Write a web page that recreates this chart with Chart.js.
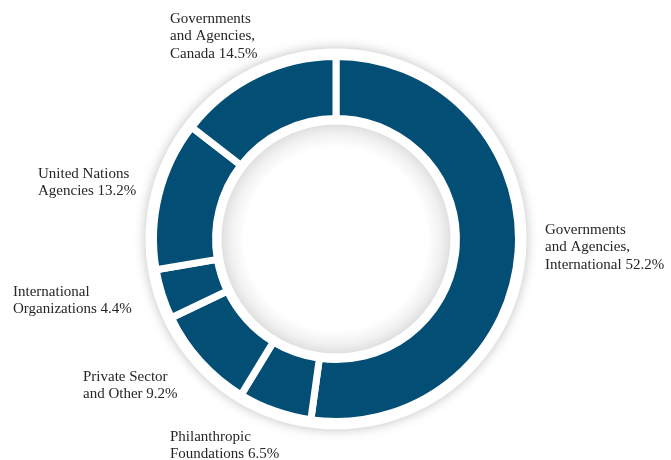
<!DOCTYPE html>
<html lang="en">
<head>
    <meta charset="UTF-8">
    <title>Funding Sources</title>
    <script src="https://cdn.jsdelivr.net/npm/chart.js@4.4.0/dist/chart.umd.min.js"></script>
    <style>
        body {
            margin: 0;
            background: #ffffff;
        }
        .chart-container {
            position: relative;
            width: 671px;
            height: 460px;
        }
    </style>
</head>
<body>
    <div class="chart-container">
        <canvas id="fundingChart"></canvas>
    </div>

    <script>
        // Shares of funding, clockwise from the top
        const categories = [
            'Governments and Agencies, International',
            'Philanthropic Foundations',
            'Private Sector and Other',
            'International Organizations',
            'United Nations Agencies',
            'Governments and Agencies, Canada'
        ];
        const shares = [52.2, 6.5, 9.2, 4.4, 13.2, 14.5];
        // How each category name is broken over lines in the labels
        const labelLines = [
            ['Governments', 'and Agencies,', 'International'],
            ['Philanthropic', 'Foundations'],
            ['Private Sector', 'and Other'],
            ['International', 'Organizations'],
            ['United Nations', 'Agencies'],
            ['Governments', 'and Agencies,', 'Canada']
        ];

        // where each label block sits (left x, first baseline)
        const labelSpots = [
            [545, 234], [170, 441], [83, 381], [13, 296], [38, 178], [170, 23]
        ];

        const ringDecor = {
            id: 'ringDecor',
            beforeDatasetsDraw(chart) {
                const arc = chart.getDatasetMeta(0).data[0];
                if (!arc) return;
                const ctx = chart.ctx;
                ctx.save();
                ctx.shadowColor = 'rgba(0,0,0,0.25)';
                ctx.shadowBlur = 12;
                ctx.fillStyle = '#ffffff';
                ctx.beginPath();
                ctx.arc(arc.x, arc.y, arc.outerRadius + 8, 0, Math.PI * 2);
                ctx.fill();
                ctx.restore();
            },
            afterDatasetsDraw(chart) {
                const arc = chart.getDatasetMeta(0).data[0];
                if (!arc) return;
                const ctx = chart.ctx;
                const r = arc.innerRadius - 6;
                ctx.save();
                const grad = ctx.createRadialGradient(arc.x, arc.y, 0, arc.x, arc.y, r);
                grad.addColorStop(0, '#ffffff');
                grad.addColorStop(0.8, '#ffffff');
                grad.addColorStop(0.92, '#f1f1f1');
                grad.addColorStop(1, '#e0e0e0');
                ctx.fillStyle = grad;
                ctx.beginPath();
                ctx.arc(arc.x, arc.y, r, 0, Math.PI * 2);
                ctx.fill();
                ctx.restore();
            },
            afterDraw(chart) {
                const ctx = chart.ctx;
                ctx.save();
                ctx.font = '15px "Liberation Serif", serif';
                ctx.fillStyle = '#262626';
                ctx.textAlign = 'left';
                ctx.textBaseline = 'alphabetic';
                labelLines.forEach((lines, i) => {
                    const [x, y] = labelSpots[i];
                    const text = lines.slice();
                    text[text.length - 1] += ' ' + shares[i].toFixed(1) + '%';
                    text.forEach((line, j) => {
                        ctx.fillText(line, x, y + j * 17.3);
                    });
                });
                ctx.restore();
            }
        };

        const ctx = document.getElementById('fundingChart').getContext('2d');
        new Chart(ctx, {
            type: 'doughnut',
            data: {
                labels: categories,
                datasets: [{
                    data: shares,
                    backgroundColor: '#034e74',
                    borderColor: '#ffffff',
                    borderWidth: 7,
                    hoverOffset: 0
                }]
            },
            options: {
                responsive: true,
                maintainAspectRatio: false,
                animation: false,
                cutout: '66%',
                layout: {
                    padding: { top: 53, bottom: 35, left: 150, right: 149 }
                },
                plugins: {
                    legend: { display: false },
                    tooltip: { enabled: false }
                }
            },
            plugins: [ringDecor]
        });
    </script>
</body>
</html>
